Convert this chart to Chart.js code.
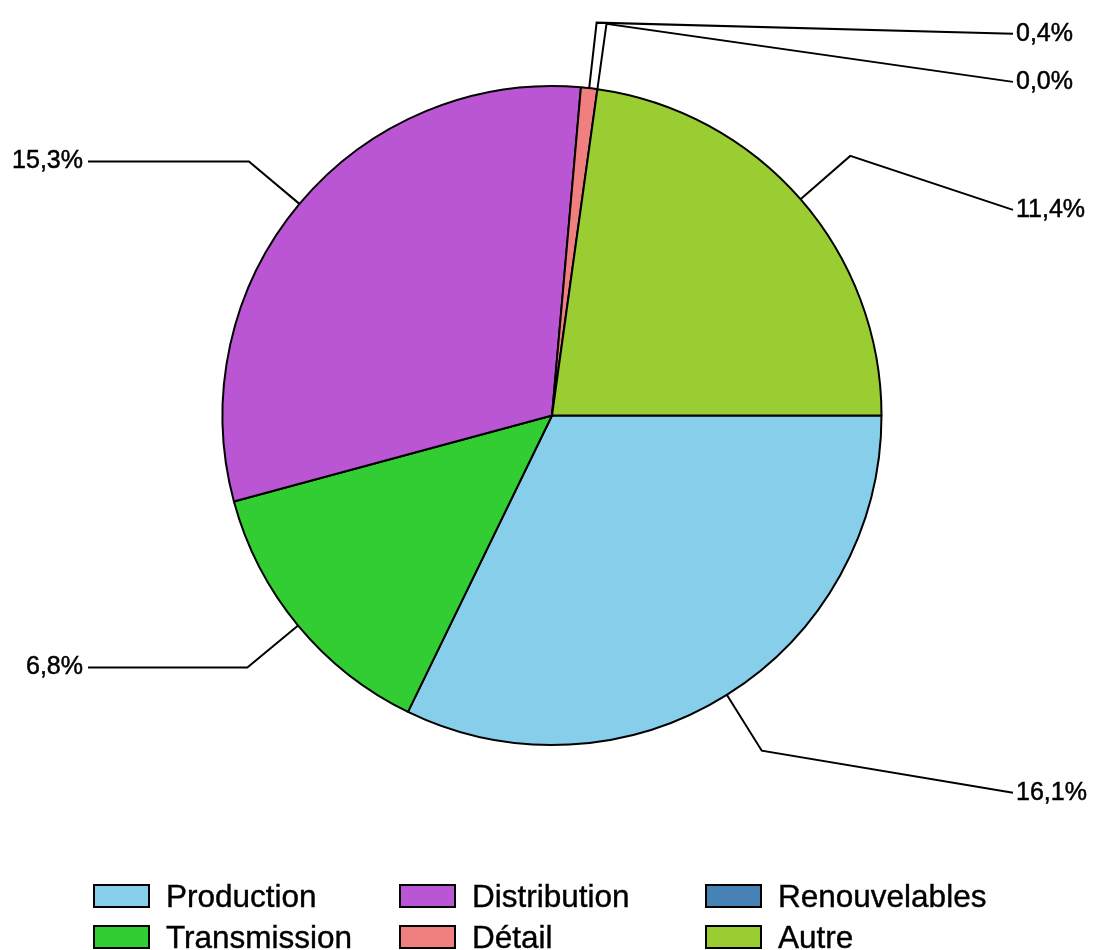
<!DOCTYPE html>
<html>
<head>
<meta charset="utf-8">
<script src="https://cdn.jsdelivr.net/npm/chart.js@4/dist/chart.umd.min.js"></script>
<style>
  html, body { margin: 0; padding: 0; background: #fff; }
  #wrap { position: relative; width: 1094px; height: 950px; overflow: hidden; }
  #legend {
    position: absolute; left: 93px; top: 884px;
    display: grid; grid-auto-flow: column;
    grid-template-rows: repeat(2, 41px);
    grid-template-columns: repeat(3, 306px);
    font-family: "Liberation Sans", Arial, sans-serif; font-size: 31.5px; color: #000;
    -webkit-text-stroke: 0.4px #000;
  }
  .item { display: flex; align-items: flex-start; height: 41px; }
  .box { width: 57px; height: 24px; box-sizing: border-box; border: 2px solid #000; margin-right: 16px; flex: none; }
  .lbl { line-height: 24px; white-space: nowrap; }
</style>
</head>
<body>
<div id="wrap">
  <canvas id="chart" width="1094" height="950"></canvas>
  <div id="legend"></div>
</div>
<script>
// slice data (percent values as shown on labels)
const categories = ['Production', 'Transmission', 'Distribution', 'Détail', 'Renouvelables', 'Autre'];
const values = [16.1, 6.8, 15.3, 0.4, 0.0, 11.4];
const colors = ['#87CEEB', '#32CD32', '#BA55D3', '#F08080', '#4682B4', '#9ACD32'];
// legend reads column by column
const legendOrder = ['Production', 'Transmission', 'Distribution', 'Détail', 'Renouvelables', 'Autre'];

// extra vertical shift of the right-hand labels, per slice
const rightLabelShift = [42, 0, 0, 11, 58, 54];

const fmt = v => v.toFixed(1).replace('.', ',') + '%';

// leader lines + value labels
const leaderLabels = {
  id: 'leaderLabels',
  afterDraw(chart, args, opts) {
    const ctx = chart.ctx;
    const meta = chart.getDatasetMeta(0);
    ctx.save();
    ctx.strokeStyle = '#000';
    ctx.fillStyle = '#000';
    ctx.font = '25px "Liberation Sans", Arial, sans-serif';
    ctx.textBaseline = 'middle';
    meta.data.forEach((arc, i) => {
      const p = arc.getProps(['x', 'y', 'startAngle', 'endAngle', 'outerRadius'], true);
      const mid = (p.startAngle + p.endAngle) / 2;
      const c = Math.cos(mid), s = Math.sin(mid);
      const x1 = p.x + c * p.outerRadius, y1 = p.y + s * p.outerRadius;
      const x2 = p.x + c * p.outerRadius * 1.2, y2 = p.y + s * p.outerRadius * 1.2;
      let x3, y3;
      if (c < 0) {
        x3 = opts.leftX; y3 = y2;
      } else {
        x3 = opts.rightX; y3 = y2 + opts.shift[i];
      }
      ctx.lineWidth = 2;
      ctx.beginPath();
      ctx.moveTo(x1, y1);
      ctx.lineTo(x2, y2);
      ctx.lineTo(x3, y3);
      ctx.stroke();
      const txt = fmt(chart.data.datasets[0].data[i]);
      ctx.lineWidth = 0.5;
      if (c < 0) {
        ctx.textAlign = 'right';
        ctx.fillText(txt, x3 - 5, y3);
        ctx.strokeText(txt, x3 - 5, y3);
      } else {
        ctx.textAlign = 'left';
        ctx.fillText(txt, x3 + 3, y3);
        ctx.strokeText(txt, x3 + 3, y3);
      }
    });
    ctx.restore();
  }
};

new Chart(document.getElementById('chart'), {
  type: 'pie',
  data: {
    labels: categories,
    datasets: [{
      data: values,
      backgroundColor: colors,
      borderColor: '#000',
      borderWidth: 2
    }]
  },
  options: {
    responsive: false,
    maintainAspectRatio: false,
    animation: false,
    rotation: 90,
    layout: { padding: { left: 221, top: 85, right: 211, bottom: 204 } },
    plugins: {
      legend: { display: false },
      tooltip: { enabled: false },
      leaderLabels: { leftX: 88, rightX: 1013, shift: rightLabelShift }
    }
  },
  plugins: [leaderLabels]
});

// legend
const legendEl = document.getElementById('legend');
legendOrder.forEach(name => {
  const i = categories.indexOf(name);
  const item = document.createElement('div');
  item.className = 'item';
  item.innerHTML = '<span class="box" style="background:' + colors[i] + '"></span><span class="lbl">' + name + '</span>';
  legendEl.appendChild(item);
});
</script>
</body>
</html>
